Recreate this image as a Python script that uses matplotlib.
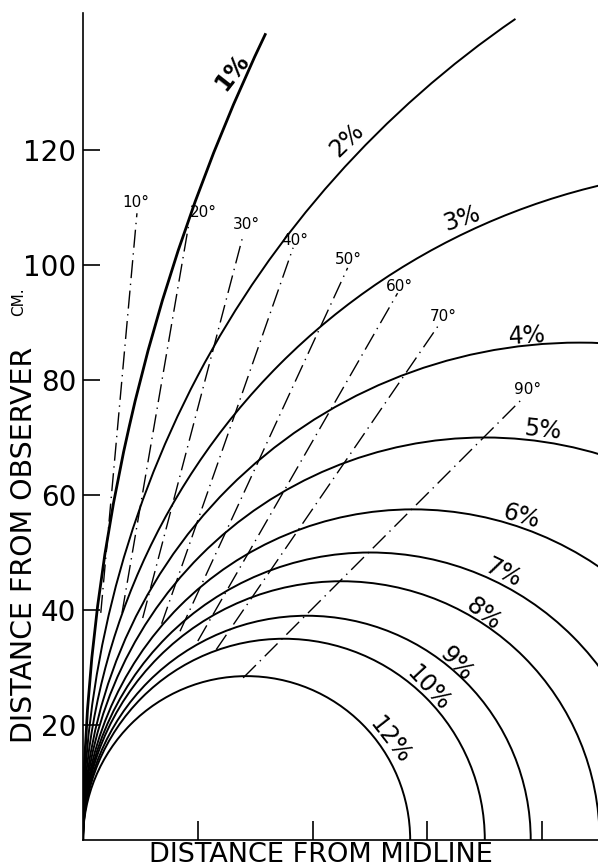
import numpy as np
import matplotlib
matplotlib.use("Agg")
import matplotlib.pyplot as plt
from matplotlib.patches import Arc

plt.rcParams["font.family"] = ["DejaVu Sans"]

# iso-percent curves: circles through the observer, centre on the midline axis
pct_labels = ["1%", "2%", "3%", "4%", "5%", "6%", "7%", "8%", "9%", "10%", "12%"]
pct_radius = [325, 173, 117, 86.5, 70, 57.5, 50, 45, 39, 35, 28.5]
pct_top_y = [140.3, 142.8, None, None, None, None, None, None, None, None, None]
pct_lab_x = [26.0, 46.0, 66.0, 77.4, 80.0, 76.3, 73.2, 69.7, 65.0, 60.1, 53.5]
pct_lab_y = [133.6, 121.7, 108.0, 87.7, 71.3, 56.2, 46.4, 39.3, 30.6, 26.4, 17.4]
pct_lab_rot = [52, 44, 18, 3, -6, -16, -26, -38, -47, -47, -52]

# angle rays (dash-dot), bottom and top ends
ang_labels = ["10°", "20°", "30°", "40°", "50°", "60°", "70°", "90°"]
ray_x0 = [3.1, 6.8, 10.4, 13.7, 16.9, 20.0, 23.2, 27.9]
ray_y0 = [39.5, 39.5, 38.6, 37.6, 36.3, 34.6, 33.1, 28.2]
ray_x1 = [9.4, 18.5, 27.9, 36.6, 46.1, 54.8, 62.0, 76.8]
ray_y1 = [109.0, 107.5, 105.2, 103.0, 99.5, 95.1, 89.6, 77.0]
ang_lab_x = [9.2, 20.9, 28.4, 36.9, 46.2, 55.1, 62.7, 77.5]
ang_lab_y = [110.8, 109.2, 107.0, 104.3, 101.0, 96.2, 91.1, 78.4]

y_ticks = [20, 40, 60, 80, 100, 120]
x_ticks = [20, 40, 60, 80]

W, H = 598, 868
fig = plt.figure(figsize=(W / 100, H / 100), dpi=100)
ax = fig.add_axes([83 / W, 28 / H, 515 / W, 827 / H])
ax.set_xlim(0, 515 / 5.74)
ax.set_ylim(0, 827 / 5.75)

for lab, r, ytop, lx, ly, rot in zip(pct_labels, pct_radius, pct_top_y,
                                     pct_lab_x, pct_lab_y, pct_lab_rot):
    t1 = 0 if ytop is None else 180 - np.degrees(np.arcsin(ytop / r))
    lw = 2.0 if lab == "1%" else 1.4
    ax.add_patch(Arc((r, 0), 2 * r, 2 * r, theta1=t1, theta2=180,
                     color="black", lw=lw, clip_on=True))
    ax.text(lx, ly, lab, fontsize=17, rotation=rot, ha="center", va="center",
            fontweight="bold" if lab == "1%" else "normal")

for lab, x0, y0, x1, y1, lx, ly in zip(ang_labels, ray_x0, ray_y0, ray_x1, ray_y1,
                                       ang_lab_x, ang_lab_y):
    ax.plot([x0, x1], [y0, y1], color="black", lw=1.0,
            linestyle=(0, (13, 4, 1, 4)))
    ax.text(lx, ly, lab, fontsize=11, ha="center", va="center")

for s in ["top", "right"]:
    ax.spines[s].set_visible(False)
for s in ["left", "bottom"]:
    ax.spines[s].set_linewidth(1.2)

ax.set_yticks(y_ticks)
ax.set_yticklabels([str(v) for v in y_ticks], fontsize=20)
ax.tick_params(axis="y", direction="in", length=12, width=1.2, pad=5)
ax.set_xticks(x_ticks)
ax.set_xticklabels([])
ax.tick_params(axis="x", direction="in", length=14, width=1.2)

fig.text(321 / W, 1 - 855 / H, "DISTANCE FROM MIDLINE", fontsize=19.5,
         ha="center", va="center")
fig.text(24 / W, 1 - 545 / H, "DISTANCE FROM OBSERVER", fontsize=20.5,
         rotation=90, ha="center", va="center")
fig.text(19 / W, 1 - 302 / H, "CM.", fontsize=11, rotation=90,
         ha="center", va="center")

fig.savefig("out.png", dpi=100)
